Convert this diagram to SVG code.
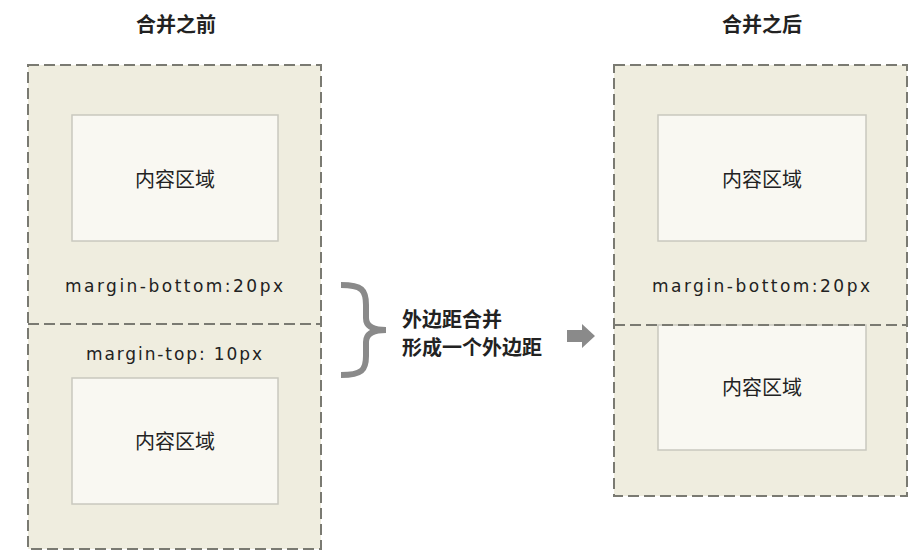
<svg xmlns="http://www.w3.org/2000/svg" width="921" height="555" viewBox="0 0 921 555">
<style>
.outer{fill:#efeddf;stroke:none}
.dash{fill:none;stroke:#7a7a72;stroke-width:2;stroke-dasharray:11 5}
.inner{fill:#f9f8f2;stroke:#c9c8bf;stroke-width:1.5}
.cn{font-family:"Noto Sans CJK SC","Noto Sans",sans-serif;fill:#222}
.title{font-size:20px;font-weight:bold;text-anchor:middle}
.lbl{font-size:20px;text-anchor:middle}
.note{font-size:20px;font-weight:bold}
.mono{font-family:"DejaVu Sans","Liberation Sans",sans-serif;font-size:17px;fill:#222;text-anchor:middle}
</style>
<rect width="921" height="555" fill="#ffffff"/>
<g id="title-before"><text class="cn title" x="176" y="32">合并之前</text></g>
<g id="title-after"><text class="cn title" x="762" y="32">合并之后</text></g>
<g id="before-box">
<rect class="outer" x="28" y="65" width="293" height="484"/>
<rect class="dash" x="28" y="65" width="293" height="484"/>
<line class="dash" x1="28" y1="324" x2="321" y2="324"/>
</g>
<g id="before-content1">
<rect class="inner" x="72" y="115" width="206" height="126"/>
<text class="cn lbl" x="175" y="187">内容区域</text>
</g>
<g id="before-mb"><text class="mono" x="174" y="292" textLength="218" lengthAdjust="spacing">margin-bottom:20px</text></g>
<g id="before-mt"><text class="mono" x="174" y="360" textLength="176" lengthAdjust="spacing">margin-top: 10px</text></g>
<g id="before-content2">
<rect class="inner" x="72" y="378" width="206" height="126"/>
<text class="cn lbl" x="175" y="449">内容区域</text>
</g>
<g id="after-box">
<rect class="outer" x="614" y="65" width="293" height="431"/>
<rect class="inner" x="658" y="325" width="208" height="125"/>
<rect class="dash" x="614" y="65" width="293" height="431"/>
<line class="dash" x1="614" y1="325" x2="907" y2="325"/>
</g>
<g id="after-content1">
<rect class="inner" x="658" y="115" width="208" height="126"/>
<text class="cn lbl" x="762" y="187">内容区域</text>
</g>
<g id="after-mb"><text class="mono" x="761" y="292" textLength="218" lengthAdjust="spacing">margin-bottom:20px</text></g>
<g id="after-content2"><text class="cn lbl" x="762" y="395">内容区域</text></g>
<g id="note">
<text class="cn note" x="402" y="327">外边距合并</text>
<text class="cn note" x="402" y="355">形成一个外边距</text>
</g>
<g id="connectors">
<path d="M341,285 C362,285 366,290 366,305 L366,318 C366,326 372,330 386,330 C372,330 366,334 366,342 L366,356 C366,370 362,375 341,375" fill="none" stroke="#8a8a8a" stroke-width="6"/>
<path d="M567,330 L582,330 L582,324 L595,336 L582,348 L582,342 L567,342 Z" fill="#8a8a8a"/>
</g>
</svg>
